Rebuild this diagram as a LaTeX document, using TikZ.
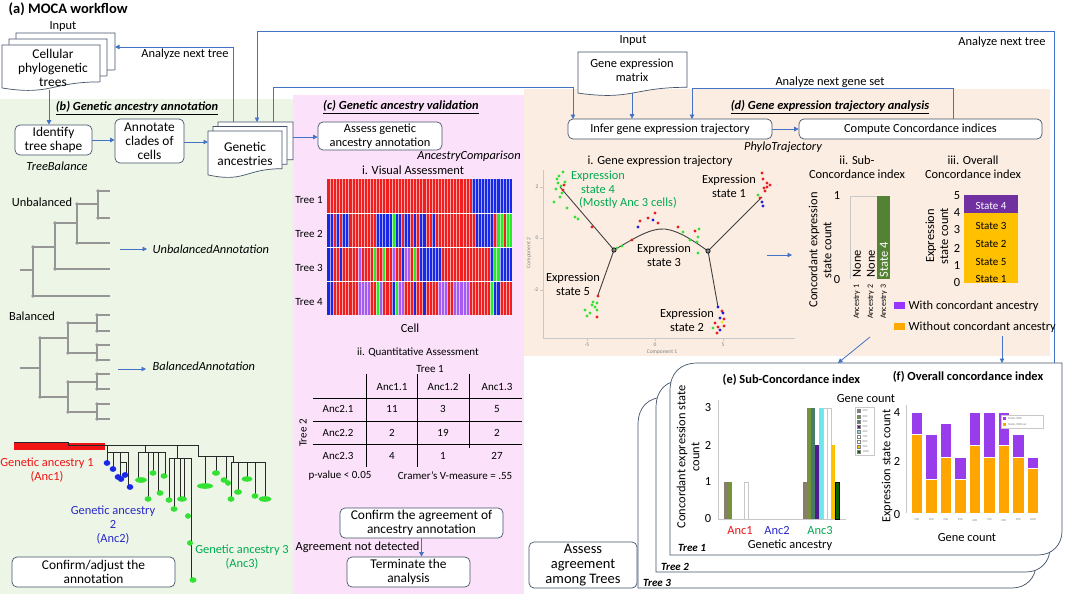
\documentclass[tikz,border=0pt]{standalone}
\usepackage{fontspec}
\setmainfont{Carlito}
\usetikzlibrary{arrows.meta,calc}
\definecolor{boxc}{RGB}{68,84,106}
\definecolor{arrc}{RGB}{68,114,196}
\definecolor{bgG}{RGB}{236,245,230}
\definecolor{bgP}{RGB}{251,226,250}
\definecolor{bgO}{RGB}{252,237,226}
\definecolor{treeg}{RGB}{150,150,150}
\definecolor{hR}{RGB}{240,30,30}
\definecolor{hB}{RGB}{25,40,230}
\definecolor{hG}{RGB}{40,235,40}
\definecolor{hP}{RGB}{165,90,240}
\definecolor{tRed}{RGB}{240,20,20}
\definecolor{tBlue}{RGB}{40,40,200}
\definecolor{tGreen}{RGB}{0,170,80}
\definecolor{dRed}{RGB}{230,30,30}
\definecolor{dGreen}{RGB}{50,225,50}
\definecolor{dBlue}{RGB}{30,30,220}
\definecolor{dYel}{RGB}{240,230,40}
\definecolor{barG}{RGB}{84,130,53}
\definecolor{barPu}{RGB}{112,48,160}
\definecolor{barOr}{RGB}{255,192,0}
\definecolor{legPu}{RGB}{153,51,255}
\definecolor{legOr}{RGB}{255,170,0}
\definecolor{fPu}{RGB}{153,60,235}
\definecolor{fOr}{RGB}{255,165,0}
\definecolor{eBr}{RGB}{138,125,106}
\definecolor{eOl}{RGB}{118,146,60}
\definecolor{eTe}{RGB}{70,125,100}
\definecolor{ePu}{RGB}{80,30,140}
\definecolor{eCy}{RGB}{110,230,235}
\definecolor{eDg}{RGB}{0,100,0}
\definecolor{axg}{RGB}{200,200,200}
\definecolor{trk}{RGB}{40,40,40}
\newcommand\fsA{\fontsize{12.4}{14}\selectfont}
\newcommand\fsM{\fontsize{11}{13.5}\selectfont}
\newcommand\fsB{\fontsize{13.4}{14.2}\selectfont}
\newcommand\fsL{\fontsize{14.5}{14.7}\selectfont}
\newcommand\fsS{\fontsize{8}{9}\selectfont}
\newcommand\fsX{\fontsize{5.5}{6}\selectfont}
\newcommand\fsT{\fontsize{3}{3.5}\selectfont}
\newcommand\docshape[4]{%
 \filldraw[draw=boxc, fill=white, line width=0.7pt] (#1,#2) -- ({#1+#3},#2) -- ({#1+#3},{#2+0.802*#4}) .. controls ({#1+0.5*#3},{#2+0.802*#4}) and ({#1+0.5*#3},{#2+1.107*#4}) .. (#1,{#2+0.934*#4}) -- cycle;}
\newcommand\snipbox[4]{%
 \filldraw[draw=boxc, fill=white, line width=0.7pt] ({#1+28},#2) -- (#3,#2) -- (#3,{#4-24}) .. controls (#3,{#4-10}) and ({#3-10},#4) .. ({#3-24},#4) -- (#1,#4) -- (#1,{#2+28}) .. controls (#1,{#2+10}) and ({#1+10},#2) .. ({#1+28},#2) -- cycle;}
\newcommand\dd[3]{\fill[#1] (#2,#3) circle (1.6pt);}
\newcommand\gb[3]{\fill[dGreen] (#1,#2) ellipse [x radius=#3pt, y radius=2.8pt];}
\newcommand\bb[2]{\fill[hB] (#1,#2) ellipse [x radius=3.3pt, y radius=2.9pt];}
\begin{document}
\begin{tikzpicture}[x=1pt,y=-1pt,
  every node/.style={font=\fsA, inner sep=0.5pt},
  box/.style={draw=boxc, fill=white, rounded corners=5pt, line width=0.7pt, align=center, inner sep=1pt},
  arr/.style={draw=arrc, line width=0.8pt, -{Triangle[length=4.5pt,width=4.5pt]}},
  tr/.style={draw=treeg, line width=1.1pt},
  tk/.style={draw=trk, line width=0.7pt},
  ttl/.style={font=\fsA\bfseries\itshape},
  it/.style={font=\fsA\itshape},
  ]
\useasboundingbox (0,0) rectangle (1065,594);
\fill[white] (0,0) rectangle (1065,594);
% panel backgrounds
\fill[bgG] (0,99) rectangle (293,594);
\fill[bgP] (293,95) rectangle (524,594);
\fill[bgO] (524,89) rectangle (1050,356);

% ---------- (a) ----------
\node[font=\fsL\bfseries, anchor=west] (ttlA) at (8,9) {(a) MOCA workflow};
\node (inA) at (63,27) {Input};
\docshape{16}{33}{99}{46}
\docshape{9}{39}{98}{46}
\docshape{2}{45}{98}{46}
\node[align=center, font=\fsB] (cpt) at (53,68) {Cellular\\phylogenetic\\trees};
\coordinate (cptbot) at (49,90);
\coordinate (cptR) at (115,47);

% ---------- (b) ----------
\node[ttl] (ttlB) at (137,108) {\underline{(b) Genetic ancestry annotation}};
\node[box, font=\fsB, minimum width=77pt, minimum height=30pt] (identify) at (53.5,140) {Identify\\tree shape};
\node[it] (tb) at (57,166) {TreeBalance};
\node[box, font=\fsB, minimum width=69pt, minimum height=44pt] (annotate) at (149.5,141) {Annotate\\clades of\\cells};
\docshape{218}{122}{75}{47}
\docshape{213}{126.5}{74}{47}
\docshape{208}{131}{74}{47}
\node[align=center, font=\fsB] (gen) at (245,154) {Genetic\\ancestries};
\coordinate (genL) at (208,142);
\coordinate (gA) at (233,122);
\coordinate (gB) at (257,122);
\coordinate (gC) at (273,122);
\coordinate (gR) at (293,137);
\draw[arr] (cptbot) -- (cptbot |- identify.north);
\draw[arr] (identify.east) -- (identify.east -| annotate.west);
\draw[arr] (annotate.east |- genL) -- (genL);
\draw[arr] (gA) |- (cptR);
\node (ant1) at (185,54) {Analyze next tree};

% unbalanced tree
\node (unb) at (42,202) {Unbalanced};
\draw[tr] (20,270)--(33,270) (33,247)--(33,296) (33,296)--(110,296) (33,247)--(55,247)
  (55,223)--(55,269) (55,269)--(110,269) (55,223)--(77,223) (77,204)--(77,243)
  (77,243)--(110,243) (77,204)--(98,204) (98,191)--(98,218) (98,191)--(110,191) (98,218)--(110,218);
\foreach \p in {(33,247),(33,296),(55,223),(55,269),(77,204),(77,243),(98,191),(98,218)} \fill[treeg] \p circle (1.8pt);
\coordinate (ua1) at (120,249); \coordinate (ua2) at (147,249);
\draw[arr] (ua1) -- (ua2);
\node[it, anchor=west] (unbA) at (152,249) {UnbalancedAnnotation};
% balanced tree
\node (bal) at (32,316) {Balanced};
\draw[tr] (20,368)--(40,368) (40,338)--(40,397) (40,338)--(68,338) (40,397)--(68,397)
  (68,323)--(68,353) (68,382)--(68,412)
  (68,323)--(97,323) (68,353)--(97,353) (68,382)--(97,382) (68,412)--(97,412)
  (97,315)--(97,331) (97,345)--(97,360) (97,374)--(97,389) (97,404)--(97,419);
\foreach \yy in {315,331,345,360,374,389,404,419} {\draw[tr] (97,\yy)--(110,\yy); \fill[treeg] (97,\yy) circle (1.8pt);}
\foreach \p in {(40,338),(40,397),(68,323),(68,353),(68,382),(68,412)} \fill[treeg] \p circle (1.8pt);
\coordinate (ba1) at (118,369); \coordinate (ba2) at (146,369);
\draw[arr] (ba1) -- (ba2);
\node[it, anchor=west] (balA) at (152,366) {BalancedAnnotation};

% ancestry tree
\fill[tRed] (14,443) rectangle (105,450);
\draw[tk] (14,442)--(68,442)--(68,445)--(198,445);
\draw[tk] (107,445)--(107,463) (107,452)--(128,452) (113,452)--(113,469) (120,452)--(120,477)
  (120,462)--(126,462) (126,462)--(126,474) (128,452)--(128,486);
\draw[tk] (145,445)--(145,452) (138,452)--(165,452) (138,452)--(138,480) (148,452)--(148,499)
  (153,452)--(153,473) (158,452)--(158,493) (165,452)--(165,476);
\draw[tk] (177,445)--(177,458) (169,458)--(191,458) (169,458)--(169,500) (174,458)--(174,509)
  (180,458)--(180,499) (184,458)--(184,499) (191,458)--(191,580);
\draw[tk] (198,445)--(198,456) (198,456)--(233,456) (205,456)--(205,486) (216,456)--(216,473)
  (226,456)--(226,481) (233,456)--(233,462) (231,462)--(265,462) (231,462)--(231,499)
  (238,462)--(238,492) (247,462)--(247,479) (255,462)--(255,496) (265,462)--(265,499);
\bb{107}{463}\bb{113}{469}\bb{118}{477}\bb{121}{479}\bb{125}{475}\bb{130}{487}
\gb{141}{480}{6}\gb{148}{499}{3.5}\gb{153}{473}{3.5}\gb{160}{493}{3.5}\gb{164}{476}{3.5}
\gb{169}{500}{3.5}\gb{174}{509}{3.5}\gb{182}{499}{5}\gb{188}{516}{3}\gb{190}{543}{3}\gb{193}{580}{3.5}
\gb{205}{486}{8}\gb{216}{473}{4}\gb{224}{480}{3.5}\gb{228}{483}{3}\gb{231}{499}{3.5}\gb{238}{492}{4}
\gb{247}{479}{5.5}\gb{255}{496}{3.5}\gb{265}{499}{6.5}
\node[text=tRed, align=center] (anc1) at (47,470) {Genetic ancestry 1\\(Anc1)};
\node[text=tBlue, align=center] (anc2) at (113,525) {Genetic ancestry\\2\\(Anc2)};
\node[text=tGreen, align=center] (anc3) at (242,557) {Genetic ancestry 3\\(Anc3)};
\node[box, font=\fsB, minimum width=163pt, minimum height=30pt] (confadj) at (93.5,572) {Confirm/adjust the\\annotation};

% ---------- (c) ----------
\node[ttl] (ttlC) at (401,107) {\underline{(c) Genetic ancestry validation}};
\node[box, minimum width=124pt, minimum height=28pt] (assess) at (380,136) {Assess genetic\\ancestry annotation};
\draw[arr] (gR) -- (gR -| assess.west);
\node[it] (ac) at (469,156) {AncestryComparison};
\node (va) at (413,170) {i. Visual Assessment};
\foreach \row [count=\r from 0] in {
 {R,R,R,R,R,R,R,R,R,R,R,R,R,R,R,R,R,R,R,R,R,R,R,R,R,R,R,R,R,R,R,R,R,R,R,R,R,R,R,R,R,R,R,R,R,R,R,B,B,B,B,B,B,B,B,B,B,B,B,B},
 {B,B,R,B,R,B,B,R,R,R,R,R,R,R,R,R,B,B,B,B,B,G,B,B,R,B,B,R,B,R,B,B,R,R,B,R,R,R,R,R,R,R,R,R,R,R,R,R,B,B,B,B,B,B,R,G,G,R,G,G},
 {B,B,R,R,B,R,R,R,R,R,P,R,R,R,R,G,R,R,G,R,R,P,R,R,B,P,P,R,G,R,B,B,B,B,B,B,B,R,R,R,R,R,R,R,R,R,R,R,R,R,R,R,R,B,G,G,B,B,B,B},
 {B,B,R,R,R,R,R,R,R,R,P,P,P,P,R,R,G,P,R,R,R,B,G,P,P,R,R,R,B,R,R,B,R,R,R,R,P,P,P,R,R,P,P,P,P,P,R,R,R,R,R,R,R,G,B,B,R,R,R,R}} {
  \foreach \c [count=\i from 0] in \row {
    \fill[fill=h\c] ({327+\i*3.0833},{179+\r*34}) rectangle ++(3.0833,34);
  }
}
\foreach \i in {1,...,59} \draw[white, line width=0.3pt, opacity=0.6] ({327+\i*3.0833},179) -- ++(0,136);
\foreach \r in {1,2,3} \draw[white, line width=0.5pt] (327,{179+\r*34}) -- ++(185,0);
\node[font=\fsM] (t1) at (309,200) {Tree 1};
\node[font=\fsM] (t2) at (309,234) {Tree 2};
\node[font=\fsM] (t3) at (309,268) {Tree 3};
\node[font=\fsM] (t4) at (309,302) {Tree 4};
\node (cell) at (410,328) {Cell};
\node[font=\fsM] (qa) at (418,352) {ii. Quantitative Assessment};
\node[font=\fsM] (tt1) at (430,369) {Tree 1};
\draw[black, line width=0.8pt] (366,374)--(366,467) (417,374)--(417,467) (469,374)--(469,448)
  (313,398)--(522,398) (313,421)--(522,421) (313,444)--(522,444);
\begin{scope}[every node/.style={font=\fsM, inner sep=0.5pt}]
\node (h1) at (392,387) {Anc1.1};
\node (h2) at (443,387) {Anc1.2};
\node (h3) at (497,387) {Anc1.3};
\node (r1) at (338,409) {Anc2.1};
\node (r2) at (338,433) {Anc2.2};
\node (r3) at (338,456) {Anc2.3};
\node at (392,409) {11}; \node at (443,409) {3}; \node at (497,409) {5};
\node at (392,433) {2}; \node at (443,433) {19}; \node at (497,433) {2};
\node at (392,456) {4}; \node at (443,456) {1}; \node at (497,456) {27};
\node[rotate=90] (tt2) at (303,433) {Tree 2};
\node (pv) at (340,476) {p-value < 0.05};
\node (cv) at (455,476) {Cramer’s V-measure = .55};
\end{scope}
\node[box, font=\fsB, minimum width=163pt, minimum height=30pt] (confirm) at (421.5,523) {Confirm the agreement of\\ancestry annotation};
\node[anchor=west] (and) at (295,547) {Agreement not detected};
\node[box, font=\fsB, minimum width=123pt, minimum height=30pt] (term) at (408.5,572) {Terminate the\\analysis};
\draw[arr] (confirm.south) -- (confirm.south |- term.north);

% ---------- (d) ----------
\node (inD) at (633,41) {Input};
\docshape{578}{52}{109}{44}
\node[align=center] (gem) at (632,70) {Gene expression\\matrix};
\coordinate (gemb) at (632,93);
\node[ttl] (ttlD) at (830,107) {\underline{(d) Gene expression trajectory analysis}};
\node[box, minimum width=204pt, minimum height=20pt] (infer) at (670,129) {Infer gene expression trajectory};
\node[box, minimum width=243pt, minimum height=20pt] (compute) at (920.5,129) {Compute Concordance indices};
\draw[arr] (gemb) -- (gemb |- infer.north);
\draw[arr] (infer) -- (compute);
\coordinate (inA1) at (573,119);
\coordinate (inA2) at (692,119);
\coordinate (cmpT) at (953,119);
\coordinate (gbend) at (273,87);
\draw[arr] (gC) -- (gbend) -| (inA1);
\draw[arr] (cmpT) -- ++(0,-31) -| (inA2);
\node (angs) at (830,82) {Analyze next gene set};
\node[it] (pt) at (783,147) {PhyloTrajectory};
% top loop
\coordinate (fTR) at (1054,363);
\coordinate (topR) at (1054,31);
\draw[arr] (fTR) -- (topR) -| (gB);
\node (ant2) at (1002,42) {Analyze next tree};

% trajectory plot
\node (tgt) at (660,161) {i. Gene expression trajectory};
\draw[axg, line width=0.5pt] (543,170) -- (543,338) -- (795,338);
\foreach \yy in {187,238,290} \draw[axg, line width=0.5pt] (540,\yy) -- (543,\yy);
\foreach \xx in {587,655,723} \draw[axg, line width=0.5pt] (\xx,338) -- (\xx,341);
\node[font=\fsX, text=gray] at (537,187) {2};
\node[font=\fsX, text=gray] at (537,238) {0};
\node[font=\fsX, text=gray] at (536,290) {-2};
\node[font=\fsX, text=gray, rotate=90] (c2) at (529,253) {Component 2};
\node[font=\fsX, text=gray] at (587,345) {-5};
\node[font=\fsX, text=gray] at (655,345) {0};
\node[font=\fsX, text=gray] at (723,345) {5};
\node[font=\fsX, text=gray] (c1) at (662,352) {Component 1};
\coordinate (jA) at (614,250);
\coordinate (jB) at (708,251);
\draw[black!75, line width=0.9pt] (560,187) -- (jA) -- (598,295);
\draw[black!75, line width=0.9pt] (jA) .. controls (635,238) and (650,228) .. (665,229) .. controls (680,231) and (695,242) .. (jB);
\draw[black!75, line width=0.9pt] (762,197) -- (jB) -- (718,307);
\foreach \p in {(563,172),(558,183),(561,186),(556,189),(562,193),(554,202),(567,208),(575,217),(578,219),(557,179),(560,197),(559,176),(565,182)} \fill[dGreen] \p circle (1.6pt);
\foreach \p in {(564,185),(563,190),(592,227)} \fill[dRed] \p circle (1.6pt);
\foreach \p in {(762,173),(763,179),(767,187),(770,185),(764,188),(765,191),(760,198),(767,183)} \fill[dRed] \p circle (1.6pt);
\dd{dGreen}{758}{195}\dd{dBlue}{762}{202}\dd{dBlue}{763}{206}
\foreach \p in {(640,221),(648,218),(655,213),(658,223),(632,240),(678,227),(695,231)} \fill[dRed] \p circle (1.6pt);
\dd{dBlue}{638}{227}\dd{dBlue}{653}{220}
\foreach \p in {(617,248),(683,232),(699,229),(698,237),(690,240),(697,242),(698,253),(622,246)} \fill[dGreen] \p circle (1.6pt);
\foreach \p in {(593,302),(597,303),(595,307),(585,310),(590,313),(587,316),(597,310),(592,305)} \fill[dGreen] \p circle (1.6pt);
\dd{dRed}{598}{296}\dd{dRed}{597}{317}
\dd{dBlue}{718}{307}\dd{dRed}{722}{311}\dd{dBlue}{723}{313}\dd{dBlue}{720}{318}\dd{dRed}{724}{319}
\dd{dYel}{722}{322}\dd{dRed}{715}{323}\dd{dRed}{718}{327}\dd{dRed}{724}{326}\dd{dGreen}{713}{328}
\dd{dRed}{717}{333}\dd{dBlue}{720}{330}
\filldraw[fill=gray, draw=black, line width=0.6pt] (jA) circle (2.2pt);
\filldraw[fill=gray, draw=black, line width=0.6pt] (jB) circle (2.2pt);
\node[text=tGreen, align=center] (es4) at (598,182) {Expression\\state 4};
\node[text=tGreen] (es4b) at (628,203) {(Mostly Anc 3 cells)};
\node[align=center] (es1) at (729,186) {Expression\\state 1};
\node[align=center] (es3) at (664,255) {Expression\\state 3};
\node[align=center] (es5) at (573,284) {Expression\\state 5};
\node[align=center] (es2) at (687,320) {Expression\\state 2};
\coordinate (tA) at (767,255);
\coordinate (tB) at (792,255);
\draw[arr] (tA) -- (tB);

% ii sub-concordance
\node[align=center] (iiT) at (857,167) {ii. Sub-\\Concordance index};
\node[rotate=90, align=center] (iiY) at (820,250) {Concordant expression\\state count};
\node at (837,196) {1};
\node at (837,280) {0};
\draw[axg, line width=0.6pt] (850,279) -- (850,196) -- (890,196);
\fill[barG] (877,196) rectangle (890,279);
\node[rotate=90, anchor=west] at (857,278) {None};
\node[rotate=90, anchor=west] at (871,278) {None};
\node[rotate=90, anchor=west, text=white] at (884,278) {State 4};
\node[rotate=90, anchor=east, font=\fsS] at (857,284) {Ancestry 1};
\node[rotate=90, anchor=east, font=\fsS] at (871,284) {Ancestry 2};
\node[rotate=90, anchor=east, font=\fsS] at (884,284) {Ancestry 3};
% iii overall
\node[align=center] (iiiT) at (973,167) {iii. Overall\\Concordance index};
\node[rotate=90, align=center] (iiiY) at (937,236) {Expression\\state count};
\foreach \v/\yy in {5/196,4/213,3/230,2/248,1/266,0/283} \node at (957,\yy) {\v};
\fill[barOr] (964,213) rectangle (1018,283);
\fill[barPu] (964,195) rectangle (1018,213);
\begin{scope}[every node/.style={font=\fsM, inner sep=0.5pt}]
\node[text=white] at (991,206) {State 4};
\node at (991,226) {State 3};
\node at (991,244) {State 2};
\node at (991,262) {State 5};
\node at (991,279) {State 1};
\end{scope}
\fill[legPu] (894,302) rectangle (905,309);
\node[anchor=west] (lw) at (908,306) {With concordant ancestry};
\fill[legOr] (894,323) rectangle (905,330);
\node[anchor=west] (lwo) at (908,327) {Without concordant ancestry};

% ---------- (e) / (f) ----------
\snipbox{638}{397}{1036}{588}
\snipbox{656}{380}{1050}{572}
\snipbox{670}{363}{1062}{555}
\coordinate (iiB) at (870,337);
\coordinate (eT) at (838,363);
\coordinate (iiiB) at (1002,336);
\coordinate (fT) at (1002,363);
\draw[arr] (iiB) -- (eT);
\draw[arr] (iiiB) -- (fT);
\node[font=\fsM\bfseries\itshape] at (692,548) {Tree 1};
\node[font=\fsM\bfseries\itshape] at (675,567) {Tree 2};
\node[font=\fsM\bfseries\itshape] at (657,583) {Tree 3};
\node[box, font=\fsL, minimum width=108pt, minimum height=46pt] (agree) at (583,565) {Assess\\agreement\\among Trees};
% (e)
\node[font=\fsA\bfseries, anchor=west] (ttlE) at (722,380) {(e) Sub-Concordance index};
\node[rotate=90, align=center, font=\fsA] (eY) at (688,457) {Concordant expression state\\count};
\foreach \v/\yy in {3/408,2/445,1/482,0/519} \node at (708,\yy) {\v};
\draw[axg, line width=0.6pt] (718,400) -- (718,519) -- (846,519);
\fill[eBr] (724,482) rectangle (728,519);
\fill[eOl] (728,482) rectangle (732,519);
\draw[axg, fill=white, line width=0.5pt] (744,482) rectangle (748,519);
\fill[eBr] (803,482) rectangle (807,519);
\fill[eOl] (807,408) rectangle (811,519);
\fill[eTe] (811,408) rectangle (815,519);
\fill[ePu] (815,445) rectangle (819,519);
\fill[eCy] (819,408) rectangle (823,519);
\draw[axg, fill=white, line width=0.5pt] (823,408) rectangle (827,519);
\draw[axg, fill=white, line width=0.5pt] (827,408) rectangle (831,519);
\fill[barOr] (831,445) rectangle (835,519);
\filldraw[fill=eDg, draw=black, line width=0.3pt] (835,482) rectangle (839,519);
\node[text=tRed] at (740,531) {Anc1};
\node[text=tBlue] at (777,531) {Anc2};
\node[text=tGreen] at (820,531) {Anc3};
\node (ga) at (790,545) {Genetic ancestry};
\node (gc1) at (866,399) {Gene count};
\draw[axg, fill=white, line width=0.4pt] (855,407) rectangle (874,455);
\foreach \lab/\col [count=\k from 0] in {200/eBr,300/eOl,400/eTe,500/ePu,600/eCy,700/white,800/white,900/barOr,1000/eDg} {
  \filldraw[fill=\col, draw=gray, line width=0.2pt] (857.5,{409.5+\k*5.1}) rectangle ++(3,3);
  \node[font=\fsT, anchor=west, text=gray] at (862,{411+\k*5.1}) {\lab};
}
% (f)
\node[font=\fsA\bfseries] (ttlF) at (968,377) {(f) Overall concordance index};
\node[rotate=90] (fY) at (887,466) {Expression state count};
\node at (897,413) {4};
\node at (897,461) {2};
\node at (897,515) {0};
\draw[axg, line width=0.6pt] (906,405) -- (906,513);
\foreach \xl/\ot/\tt/\lab in {911/434/412/200,925.5/479/434/300,940/457/423/400,954.5/479/457/500,969/445/412/600,983.5/457/412/700,998/445/412/800,1012.5/457/434/900,1027/468/457/1000} {
  \filldraw[fill=fOr, draw=white, line width=0.3pt] (\xl,\ot) rectangle ({\xl+11.5},513);
  \filldraw[fill=fPu, draw=white, line width=0.3pt] (\xl,\tt) rectangle ({\xl+11.5},\ot);
  \node[font=\fsT, text=gray] at ({\xl+5.75},520) {\lab};
}
\node (gc2) at (967,538) {Gene count};
\draw[axg, fill=white, line width=0.4pt] (1001,415) rectangle (1043,428);
\fill[fPu] (1003,417) rectangle (1006,420);
\node[font=\fsT, anchor=west, text=gray] at (1007.5,418.5) {States With};
\fill[fOr] (1003,423) rectangle (1006,426);
\node[font=\fsT, anchor=west, text=gray] at (1007.5,424.5) {States Without};
\end{tikzpicture}
\end{document}
